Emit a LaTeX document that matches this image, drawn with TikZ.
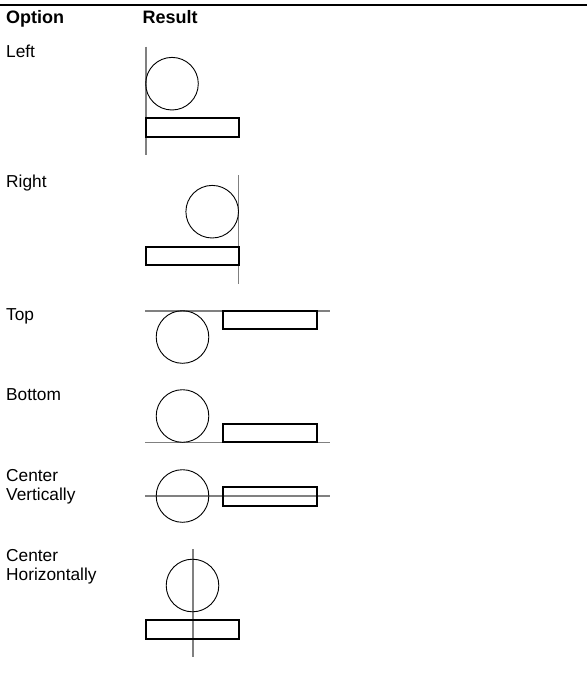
\documentclass[tikz,border=0pt]{standalone}
\usepackage{fontspec}
\setmainfont{Liberation Sans}
\begin{document}
\begin{tikzpicture}[x=1pt,y=-1pt,
  lbl/.style={anchor=base west,inner sep=0pt,font=\fontsize{17.3}{18.4}\selectfont,align=left},
  hdr/.style={anchor=base west,inner sep=0pt,font=\fontsize{18}{19}\selectfont\bfseries},
  guide/.style={draw=black!50,line width=1.6pt},
  ball/.style={draw=black,line width=0.9pt},
  bar/.style={draw=black,line width=2pt}]
\useasboundingbox (0,0) rectangle (587,674);
\draw[line width=2pt] (0,5) -- (587,5);
\node[hdr] (hopt) at (6,24) {Option};
\node[hdr] (hres) at (142.5,24) {Result};
% Left
\node[lbl] (tleft) at (6,57.3) {Left};
\draw[guide] (145.8,46.7) -- (145.8,155);
\draw[ball] (172,83.7) circle (26.3);
\draw[bar] (146,118) rectangle (239.3,136.5);
% Right
\node[lbl] (tright) at (6,187) {Right};
\draw[guide] (238.5,175) -- (238.5,284);
\draw[ball] (212.2,211.7) circle (26.3);
\draw[bar] (146,246.5) rectangle (238.5,265);
% Top
\node[lbl] (ttop) at (6,320.7) {Top};
\draw[guide] (145,310.7) -- (330,310.7);
\draw[ball] (182.5,337) circle (26.3);
\draw[bar] (223,310.7) rectangle (317.3,329.3);
% Bottom
\node[lbl] (tbottom) at (6,400) {Bottom};
\draw[guide] (145,442.3) -- (330,442.3);
\draw[ball] (182.5,416) circle (26.3);
\draw[bar] (223,423.7) rectangle (317.3,442.3);
% Center vertically (base anchor = last line)
\node[lbl] (tcv) at (6,500.1) {Center\\Vertically};
\draw[guide] (145,495.7) -- (330,495.7);
\draw[ball] (182.5,496) circle (26.3);
\draw[bar] (223,487) rectangle (317.3,505.5);
% Center horizontally
\node[lbl] (tch) at (6,580.1) {Center\\Horizontally};
\draw[guide] (192.7,549.3) -- (192.7,657.3);
\draw[ball] (192.5,585.5) circle (26.3);
\draw[bar] (146,619.5) rectangle (239.3,638.5);
\end{tikzpicture}
\end{document}
